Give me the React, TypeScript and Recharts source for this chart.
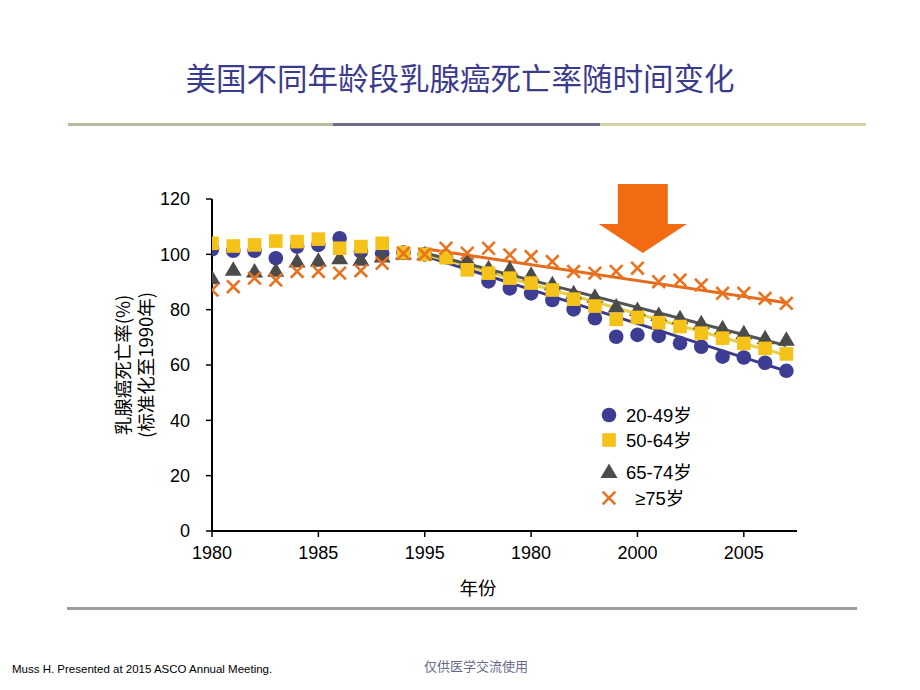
import React from 'react';
import { ComposedChart, Line, XAxis, YAxis, Legend, ReferenceDot } from 'recharts';

const years = [1980, 1981, 1982, 1983, 1984, 1985, 1986, 1987, 1988, 1989, 1990, 1991, 1992, 1993, 1994, 1995, 1996, 1997, 1998, 1999, 2000, 2001, 2002, 2003, 2004, 2005, 2006, 2007];
const age2049 = [101.8, 101.3, 101.3, 98.6, 102.8, 103.4, 105.8, 101.0, 100.4, 100.6, 100, 99, 95.5, 90.2, 87.7, 85.9, 83.5, 80.1, 76.9, 70.2, 70.9, 70.5, 67.9, 66.6, 63.0, 62.7, 60.8, 57.9];
const age5064 = [104.0, 103.0, 103.4, 104.8, 104.6, 105.5, 102.2, 102.8, 104.0, 100.6, 100, 98.8, 94.4, 93.2, 91.4, 89.6, 87.1, 83.8, 81.3, 76.5, 77.2, 75.3, 73.9, 71.5, 69.7, 67.8, 66.0, 64.0];
const age6574 = [91.4, 94.4, 93.8, 94.1, 97.4, 97.7, 98.6, 98.0, 99.2, 100.2, 100, 99.5, 98.0, 95.0, 94.6, 92.6, 89.2, 85.9, 84.7, 81.1, 79.9, 78.1, 76.9, 75.1, 73.3, 71.5, 69.7, 69.1];
const age75 = [87.1, 88.3, 91.4, 90.7, 93.8, 93.8, 93.2, 94.1, 96.8, 100.3, 100, 102.2, 100.4, 102.2, 99.8, 99.2, 97.4, 93.8, 93.2, 93.8, 95.0, 90.1, 90.7, 88.9, 85.9, 85.9, 84.1, 82.3];

const trendYears = [1990, 2007];
const trend2049 = [99.5, 57.8];
const trend5064 = [100, 63.5];
const trend6574 = [100.5, 67];
const trend75 = [102, 82.5];

const xTicks = [1980, 1985, 1990, 1995, 2000, 2005];
const xTickLabels = ['1980', '1985', '1995', '1980', '2000', '2005'];
const yTicks = [0, 20, 40, 60, 80, 100, 120];
const seriesNames = ['20-49岁', '50-64岁', '65-74岁', '≥75岁'];

const title = '美国不同年龄段乳腺癌死亡率随时间变化';
const yLabel1 = '乳腺癌死亡率(%)';
const yLabel2 = '(标准化至1990年)';
const xLabel = '年份';
const footer = 'Muss H. Presented at 2015 ASCO Annual Meeting.';
const watermark = '仅供医学交流使用';

const C_BLUE = '#3d3d94';
const C_YEL = '#f5c21a';
const C_GRAY = '#4b4b4b';
const C_ORG = '#e8721f';
const L_BLUE = '#3a3a88';
const L_YEL = '#e6d04a';
const L_GRAY = '#555555';
const L_ORG = '#e46c1c';

const data = years.map((year, i) => {
  const row: any = { year, a: age2049[i], b: age5064[i], c: age6574[i], d: age75[i] };
  const t = trendYears.indexOf(year);
  if (t >= 0) {
    row.ta = trend2049[t];
    row.tb = trend5064[t];
    row.tc = trend6574[t];
    row.td = trend75[t];
  }
  return row;
});

const FONT = '"Liberation Sans", Arial, "Noto Sans CJK SC", sans-serif';
const CJK = '"Noto Sans CJK SC", "Liberation Sans", sans-serif';

const circleShape = (cx: number, cy: number, key?: any) => <circle key={key} cx={cx} cy={cy} r={7.3} fill={C_BLUE} />;
const squareShape = (cx: number, cy: number, key?: any) => <rect key={key} x={cx - 6.8} y={cy - 6.8} width={13.6} height={13.6} fill={C_YEL} />;
const triShape = (cx: number, cy: number, key?: any) => (
  <polygon key={key} points={`${cx},${cy - 8.5} ${cx - 8.5},${cy + 6} ${cx + 8.5},${cy + 6}`} fill={C_GRAY} />
);
const xShape = (cx: number, cy: number, key?: any) => (
  <g key={key}>
    <line x1={cx - 6.3} y1={cy - 6.3} x2={cx + 6.3} y2={cy + 6.3} stroke={C_ORG} strokeWidth={2.6} />
    <line x1={cx - 6.3} y1={cy + 6.3} x2={cx + 6.3} y2={cy - 6.3} stroke={C_ORG} strokeWidth={2.6} />
  </g>
);

const dotFn = (shape: any, k: string) => (p: any) => {
  if (p.cx == null || p.cy == null || p.value == null) return <g key={`${k}-${p.index}`} />;
  return shape(p.cx, p.cy, `${k}-${p.index}`);
};

const renderLegend = () => {
  const shapes = [circleShape, squareShape, triShape, xShape];
  const ys = [15, 40, 72, 98];
  const tx = [31, 31, 31, 40];
  return (
    <svg width={130} height={112} style={{ overflow: 'visible' }}>
      {seriesNames.map((n, i) => (
        <g key={n}>
          {shapes[i](14, ys[i])}
          <text x={tx[i]} y={ys[i] + 7} fontSize={18.5} fontFamily={FONT} fill="#000">{n}</text>
        </g>
      ))}
    </svg>
  );
};

const YLabel = (props: any) => {
  const vb = props.viewBox || { x: 152, y: 199, width: 60, height: 332 };
  const cy = vb.y + vb.height / 2;
  const x1 = vb.x - 30;
  const x2 = vb.x - 7;
  return (
    <g>
      <text x={x1} y={cy} transform={`rotate(-90 ${x1} ${cy})`} textAnchor="middle" dominantBaseline="central" fontSize={18.5} fontFamily={CJK} fill="#000">{yLabel1}</text>
      <text x={x2} y={cy} transform={`rotate(-90 ${x2} ${cy})`} textAnchor="middle" dominantBaseline="central" fontSize={18.5} fontFamily={CJK} fill="#000">{yLabel2}</text>
    </g>
  );
};

const XLabel = (props: any) => {
  const vb = props.viewBox || { x: 212, y: 531, width: 585, height: 30 };
  return (
    <text x={vb.x + 266} y={vb.y + 64} textAnchor="middle" fontSize={18.5} fontFamily={CJK} fill="#000">{xLabel}</text>
  );
};

const Arrow = (p: any) => {
  const cx = p.cx, cy = p.cy;
  if (cx == null || cy == null) return <g />;
  const pts = [
    [cx - 25, cy - 69], [cx + 25, cy - 69], [cx + 25, cy - 29], [cx + 44, cy - 29],
    [cx, cy], [cx - 44, cy - 29], [cx - 25, cy - 29],
  ].map((q) => q.join(',')).join(' ');
  return <polygon points={pts} fill="#f26b12" />;
};

export default function App() {
  return (
    <div style={{ position: 'fixed', left: 0, top: 0, width: 920, height: 690, background: '#fff', overflow: 'hidden' }}>
      <div style={{ position: 'absolute', left: 0, top: 57, width: 920, textAlign: 'center', fontFamily: CJK, fontSize: 30.5, color: '#3b3b8e', lineHeight: '40px' }}>{title}</div>
      <div style={{ position: 'absolute', left: 68, top: 123, width: 265, height: 3, background: '#b9b9a2' }} />
      <div style={{ position: 'absolute', left: 333, top: 123, width: 267, height: 3, background: '#6c6c88' }} />
      <div style={{ position: 'absolute', left: 600, top: 123, width: 266, height: 3, background: '#d2d2a6' }} />
      <div style={{ position: 'absolute', left: 67, top: 607, width: 790, height: 3, background: '#9c9c9c' }} />
      <div style={{ position: 'absolute', left: 12, top: 662, fontFamily: FONT, fontSize: 11.5, color: '#000', lineHeight: '14px', whiteSpace: 'nowrap' }}>{footer}</div>
      <div style={{ position: 'absolute', left: 376, top: 657, width: 200, textAlign: 'center', fontFamily: CJK, fontSize: 13, color: '#6a6a88', lineHeight: '18px' }}>{watermark}</div>
      <div style={{ position: 'absolute', left: 0, top: 0 }}>
        <ComposedChart width={920} height={690} data={data} margin={{ top: 199, right: 123, bottom: 129, left: 152 }}>
          <XAxis
            dataKey="year"
            type="number"
            domain={[1980, 2007.5]}
            ticks={xTicks}
            tickFormatter={(v: number) => xTickLabels[xTicks.indexOf(v)]}
            height={30}
            axisLine={{ stroke: '#000', strokeWidth: 2 }}
            tickLine={{ stroke: '#000', strokeWidth: 1.5 }}
            tickSize={6}
            tickMargin={9}
            tick={{ fill: '#000', fontSize: 18, fontFamily: FONT }}
            allowDataOverflow
            label={<XLabel />}
          />
          <YAxis
            type="number"
            domain={[0, 120]}
            ticks={yTicks}
            width={60}
            axisLine={{ stroke: '#000', strokeWidth: 2 }}
            tickLine={{ stroke: '#000', strokeWidth: 1.5 }}
            tickSize={6}
            tickMargin={16}
            tick={{ fill: '#000', fontSize: 18, fontFamily: FONT }}
            label={<YLabel />}
          />
          <Line dataKey="ta" stroke={L_BLUE} strokeWidth={3} dot={false} activeDot={false} connectNulls isAnimationActive={false} legendType="none" />
          <Line dataKey="tb" stroke={L_YEL} strokeWidth={3} dot={false} activeDot={false} connectNulls isAnimationActive={false} legendType="none" />
          <Line dataKey="tc" stroke={L_GRAY} strokeWidth={3} dot={false} activeDot={false} connectNulls isAnimationActive={false} legendType="none" />
          <Line dataKey="td" stroke={L_ORG} strokeWidth={3} dot={false} activeDot={false} connectNulls isAnimationActive={false} legendType="none" />
          <Line dataKey="a" name={seriesNames[0]} stroke="none" dot={dotFn(circleShape, 'a')} activeDot={false} isAnimationActive={false} />
          <Line dataKey="c" name={seriesNames[2]} stroke="none" dot={dotFn(triShape, 'c')} activeDot={false} isAnimationActive={false} />
          <Line dataKey="b" name={seriesNames[1]} stroke="none" dot={dotFn(squareShape, 'b')} activeDot={false} isAnimationActive={false} />
          <Line dataKey="d" name={seriesNames[3]} stroke="none" dot={dotFn(xShape, 'd')} activeDot={false} isAnimationActive={false} />
          <ReferenceDot x={2000.25} y={100.5} r={0} shape={<Arrow />} ifOverflow="visible" />
          <Legend
            layout="vertical"
            align="center"
            verticalAlign="middle"
            content={renderLegend}
            wrapperStyle={{ position: 'absolute', left: 595, top: 400, width: 130, height: 112 }}
          />
        </ComposedChart>
      </div>
    </div>
  );
}
